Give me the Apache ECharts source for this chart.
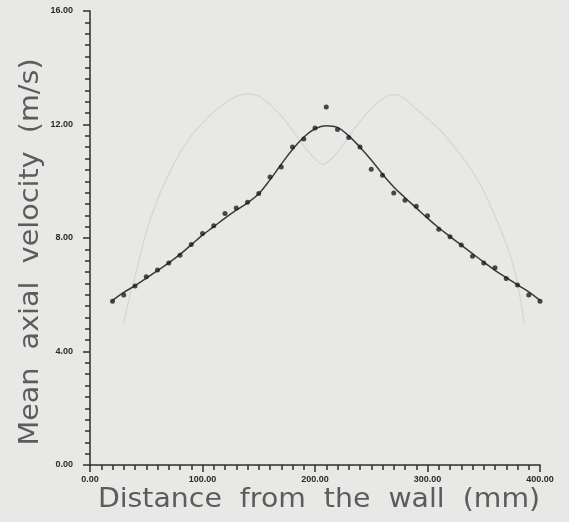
<!DOCTYPE html>
<html>
<head>
<meta charset="utf-8">
<script src="https://cdn.jsdelivr.net/npm/echarts@6/dist/echarts.min.js"></script>
<style>
  html, body { margin: 0; padding: 0; background: #e8e8e6; }
  #chart { width: 569px; height: 522px; }
</style>
</head>
<body>
<div id="chart"></div>
<script>
// 测量点 (mm, m/s)
const pointX = [20, 30, 40, 50, 60, 70, 80, 90, 100, 110, 120, 130, 140, 150, 160, 170, 180, 190, 200, 210,
  220, 230, 240, 250, 260, 270, 280, 290, 300, 310, 320, 330, 340, 350, 360, 370, 380, 390, 400];
const pointY = [5.77, 5.99, 6.31, 6.63, 6.87, 7.12, 7.39, 7.77, 8.16, 8.43, 8.86, 9.06, 9.26, 9.57, 10.15, 10.5, 11.21, 11.49, 11.88, 12.62,
  11.82, 11.54, 11.21, 10.42, 10.21, 9.59, 9.33, 9.12, 8.78, 8.31, 8.04, 7.75, 7.36, 7.12, 6.95, 6.57, 6.34, 5.99, 5.77];

// 拟合曲线
const fitX = [20, 30, 40, 50, 60, 70, 80, 90, 100, 110, 120, 130, 140, 150, 160, 170, 180, 190, 200, 210,
  220, 230, 240, 250, 260, 270, 280, 290, 300, 310, 320, 330, 340, 350, 360, 370, 380, 390, 400];
const fitY = [5.8, 6.08, 6.32, 6.58, 6.85, 7.12, 7.42, 7.76, 8.1, 8.4, 8.7, 8.98, 9.24, 9.56, 10.05, 10.6, 11.12, 11.55, 11.85, 11.96,
  11.9, 11.6, 11.2, 10.75, 10.25, 9.8, 9.42, 9.06, 8.7, 8.36, 8.05, 7.75, 7.45, 7.15, 6.86, 6.6, 6.35, 6.1, 5.8];

// 浅灰色双峰曲线
const greyX = [30, 35, 40, 50, 60, 70, 80, 90, 100, 110, 120, 130, 140, 150, 160, 170, 180, 190, 200, 207,
  215, 225, 235, 245, 255, 265, 272, 280, 290, 300, 310, 320, 330, 340, 350, 358, 366, 373, 380, 386];
const greyY = [5.0, 5.9, 6.65, 8.2, 9.35, 10.25, 11.0, 11.6, 12.05, 12.45, 12.75, 12.98, 13.08, 13.0, 12.7, 12.3, 11.8, 11.25, 10.8, 10.6,
  10.8, 11.3, 11.85, 12.35, 12.75, 13.02, 13.05, 12.9, 12.55, 12.2, 11.85, 11.4, 10.9, 10.35, 9.65, 8.95, 8.2, 7.45, 6.4, 5.0];

const xTitle = 'Distance  from  the  wall  (mm)';
const yTitle = 'Mean  axial  velocity  (m/s)';

const zip = (xs, ys) => xs.map((x, i) => [x, ys[i]]);

const myChart = echarts.init(document.getElementById('chart'));

const axisCommon = {
  type: 'value',
  axisLine: { show: true, lineStyle: { color: '#2e2e2e', width: 1.5 } },
  axisTick: { show: true, inside: false, length: 7, lineStyle: { color: '#2e2e2e', width: 1.5 } },
  minorTick: { show: true, splitNumber: 10, length: 5, lineStyle: { color: '#2e2e2e', width: 1.5 } },
  splitLine: { show: false },
  axisLabel: {
    color: '#2a2a2a',
    fontSize: 9,
    fontWeight: 'bold',
    fontFamily: 'Liberation Sans',
    formatter: v => v.toFixed(2)
  }
};

const titleStyle = (text) => ({
  text: text,
  fill: '#5c5c5c',
  font: '27px "DejaVu Sans"',
  align: 'center',
  verticalAlign: 'middle'
});

const option = {
  backgroundColor: '#e8e8e6',
  animation: false,
  grid: { left: 90, right: 29, top: 11, bottom: 57, containLabel: false },
  xAxis: Object.assign({}, axisCommon, {
    min: 0, max: 400, interval: 100,
    axisLabel: Object.assign({}, axisCommon.axisLabel, { margin: 10 })
  }),
  yAxis: Object.assign({}, axisCommon, {
    min: 0, max: 16, interval: 4,
    axisLabel: Object.assign({}, axisCommon.axisLabel, { margin: 17 })
  }),
  graphic: [
    // 横轴标题
    { type: 'text', x: 319, y: 500, scaleX: 1.05, style: titleStyle(xTitle) },
    // 纵轴标题
    { type: 'text', x: 31, y: 252, rotation: Math.PI / 2, scaleX: 1.06, style: titleStyle(yTitle) }
  ],
  series: [
    {
      type: 'line',
      data: zip(greyX, greyY),
      smooth: 0.3,
      showSymbol: false,
      lineStyle: { color: '#d6d6d4', width: 1.3 },
      z: 1
    },
    {
      type: 'line',
      data: zip(fitX, fitY),
      smooth: 0.4,
      showSymbol: false,
      lineStyle: { color: '#3a3a3a', width: 1.5 },
      z: 2
    },
    {
      type: 'scatter',
      data: zip(pointX, pointY),
      symbol: 'circle',
      symbolSize: 5,
      itemStyle: { color: '#1e1e1e' },
      z: 3
    }
  ]
};

myChart.setOption(option);
</script>
</body>
</html>
